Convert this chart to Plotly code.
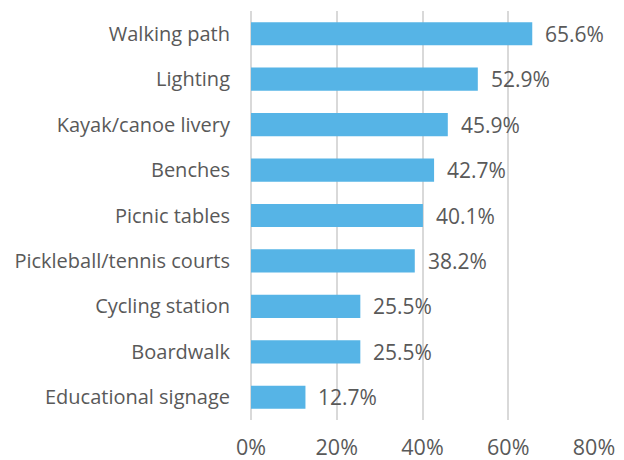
import plotly.graph_objects as go

categories = ["Walking path", "Lighting", "Kayak/canoe livery", "Benches", "Picnic tables",
              "Pickleball/tennis courts", "Cycling station", "Boardwalk", "Educational signage"]
values = [65.6, 52.9, 45.9, 42.7, 40.1, 38.2, 25.5, 25.5, 12.7]
tick_vals = [0, 20, 40, 60, 80]
tick_text = ["0%", "20%", "40%", "60%", "80%"]

font_family = "Open Sans"
text_color = "#595959"

fig = go.Figure()
fig.add_trace(go.Bar(
    x=values, y=categories, orientation="h",
    marker=dict(color="#56B4E6", line=dict(width=0)),
    width=0.51, hoverinfo="x+y",
))

annotations = [
    dict(x=v, y=c, xref="x", yref="y", text=f"{v:.1f}%", showarrow=False,
         xanchor="left", yanchor="middle", xshift=11,
         font=dict(family=font_family, size=21, color=text_color))
    for c, v in zip(categories, values)
]

fig.update_layout(
    width=624, height=460,
    margin=dict(l=243, r=38, t=2.5, b=47.5),
    paper_bgcolor="white", plot_bgcolor="white",
    showlegend=False,
    annotations=annotations,
    xaxis=dict(range=[0, 80], tickvals=tick_vals, ticktext=tick_text,
               showgrid=True, gridcolor="#d9d9d9", gridwidth=1.5,
               zeroline=True, zerolinecolor="#d9d9d9", zerolinewidth=1.5,
               showline=False, ticks="", ticklabelstandoff=12, automargin=False,
               tickfont=dict(family=font_family, size=21.5, color=text_color)),
    yaxis=dict(categoryorder="array", categoryarray=categories, autorange="reversed",
               showgrid=False, zeroline=False, showline=False, ticks="",
               ticklabelstandoff=20, automargin=False,
               tickfont=dict(family=font_family, size=20, color=text_color)),
)

fig.write_html("out.html")
